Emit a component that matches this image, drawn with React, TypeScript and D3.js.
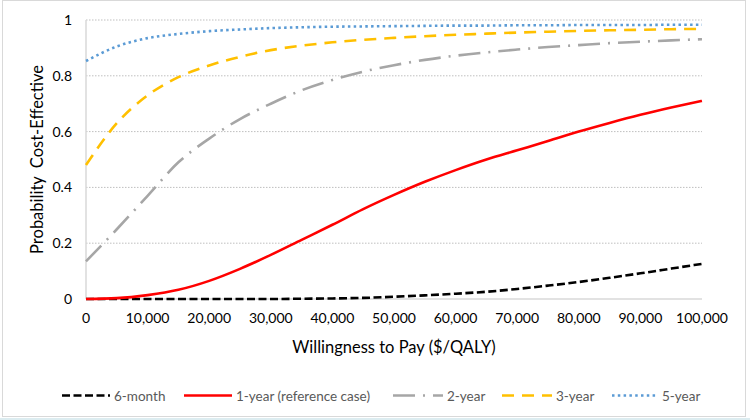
import React from "react";
import * as d3 from "d3";

const wtp = [0, 5000, 10000, 15000, 20000, 25000, 30000, 35000, 40000, 45000, 50000, 55000, 60000, 65000, 70000, 75000, 80000, 85000, 90000, 95000, 100000];
const sixMonth = [0, 0, 0, 0, 0, 0, 0, 0.001, 0.002, 0.004, 0.008, 0.013, 0.019, 0.026, 0.036, 0.048, 0.061, 0.076, 0.092, 0.109, 0.126];
const oneYear = [0, 0.003, 0.014, 0.033, 0.065, 0.108, 0.158, 0.212, 0.266, 0.322, 0.373, 0.42, 0.462, 0.5, 0.533, 0.566, 0.6, 0.631, 0.66, 0.686, 0.71];
const twoYear = [0.135, 0.25, 0.37, 0.49, 0.575, 0.645, 0.7, 0.748, 0.785, 0.815, 0.838, 0.857, 0.872, 0.884, 0.894, 0.903, 0.91, 0.917, 0.922, 0.927, 0.931];
const threeYear = [0.48, 0.63, 0.73, 0.795, 0.837, 0.868, 0.892, 0.908, 0.92, 0.929, 0.936, 0.942, 0.947, 0.951, 0.955, 0.958, 0.961, 0.963, 0.965, 0.967, 0.968];
const fiveYear = [0.853, 0.905, 0.935, 0.95, 0.96, 0.966, 0.971, 0.974, 0.976, 0.977, 0.978, 0.979, 0.98, 0.98, 0.981, 0.981, 0.982, 0.982, 0.982, 0.983, 0.983];
const seriesNames = ["6-month", "1-year (reference case)", "2-year", "3-year", "5-year"];
const xTicks = [0, 10000, 20000, 30000, 40000, 50000, 60000, 70000, 80000, 90000, 100000];
const yTicks = [0, 0.2, 0.4, 0.6, 0.8, 1];

const styles = [
  { color: "#000000", dash: "8,3.5", width: 2.6, cap: "butt" },
  { color: "#ff0000", dash: "", width: 2.6, cap: "butt" },
  { color: "#a6a6a6", dash: "22,8,2,8", width: 2.6, cap: "butt" },
  { color: "#ffc000", dash: "12,8", width: 2.6, cap: "butt" },
  { color: "#5b9bd5", dash: "2.5,3.3", width: 2.6, cap: "butt" },
];
const legendX = [62, 184, 393, 502, 612];
const legendLen = [48, 48, 50, 50, 46];

export default function App() {
  const x = d3.scaleLinear().domain([0, 100000]).range([86, 702]);
  const y = d3.scaleLinear().domain([0, 1]).range([299, 20]);
  const data = [sixMonth, oneYear, twoYear, threeYear, fiveYear];
  const line = d3
    .line<number>()
    .x((_, i) => x(wtp[i]))
    .y((d) => y(d))
    .curve(d3.curveMonotoneX);
  const font = "Lato, 'Open Sans', sans-serif";
  const fmt = d3.format(",");
  return (
    <svg
      width={750}
      height={420}
      style={{ position: "fixed", left: 0, top: 0, background: "#fff" }}
      fontFamily={font}
    >
      <rect x={0} y={0} width={750} height={420} fill="#fff" />
      <rect x={2.5} y={0.5} width={743} height={416} fill="#fff" stroke="#d9d9d9" strokeWidth={1} />
      <rect x={0} y={418} width={750} height={2} fill="#dcecf0" />
      {yTicks.filter((t) => t > 0).map((t) => (
        <line key={t} x1={x(0)} x2={x(100000)} y1={y(t)} y2={y(t)} stroke="#bfbfbf" strokeWidth={1} strokeDasharray="1.5,1.5" />
      ))}
      <line x1={x(0)} x2={x(0)} y1={y(1)} y2={y(0)} stroke="#d9d9d9" strokeWidth={1.5} />
      <line x1={x(0)} x2={x(100000)} y1={y(0)} y2={y(0)} stroke="#d9d9d9" strokeWidth={1.5} />
      {yTicks.map((t) => (
        <text key={t} x={72} y={y(t) + 5} textAnchor="end" fontSize={14} fill="#000">
          {d3.format("~g")(t)}
        </text>
      ))}
      {xTicks.map((t) => (
        <text key={t} x={x(t)} y={323} textAnchor="middle" fontSize={14} fill="#000">
          {fmt(t)}
        </text>
      ))}
      <text x={(x(0) + x(100000)) / 2} y={353} textAnchor="middle" fontSize={16.5} fill="#000">
        Willingness to Pay ($/QALY)
      </text>
      <text
        transform={`translate(43, ${(y(0) + y(1)) / 2}) rotate(-90)`}
        textAnchor="middle"
        fontSize={16.5}
        fill="#000"
        style={{ whiteSpace: "pre" }}
      >
        {"Probability  Cost-Effective"}
      </text>
      {data.map((d, i) => (
        <path
          key={i}
          d={line(d) || ""}
          fill="none"
          stroke={styles[i].color}
          strokeWidth={styles[i].width}
          strokeDasharray={styles[i].dash}
          strokeLinecap={styles[i].cap as any}
        />
      ))}
      {seriesNames.map((name, i) => (
        <g key={name}>
          <line
            x1={legendX[i]}
            x2={legendX[i] + legendLen[i]}
            y1={395.5}
            y2={395.5}
            stroke={styles[i].color}
            strokeWidth={styles[i].width}
            strokeDasharray={styles[i].dash}
          />
          <text x={legendX[i] + legendLen[i] + 4} y={400.5} fontSize={13.5} fill="#595959">
            {name}
          </text>
        </g>
      ))}
    </svg>
  );
}
